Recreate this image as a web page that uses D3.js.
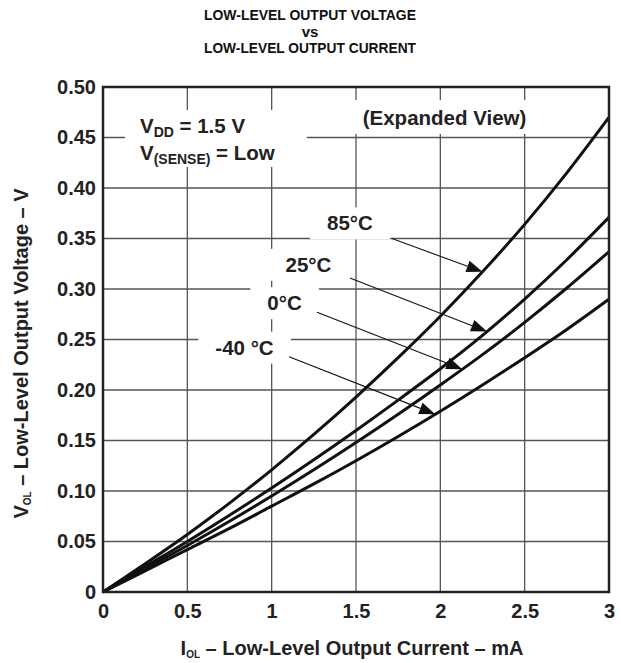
<!DOCTYPE html>
<html>
<head>
<meta charset="utf-8">
<script src="https://cdn.jsdelivr.net/npm/d3@7"></script>
<style>
  body { margin: 0; background: #fff; }
  svg { display: block; font-family: "Liberation Sans", Arial, sans-serif; font-weight: bold; }
</style>
</head>
<body>
<div id="chart"></div>
<script>
// V_OL vs I_OL at four temperatures (V_DD = 1.5 V)
const current = [0, 0.25, 0.5, 0.75, 1.0, 1.25, 1.5, 1.75, 2.0, 2.25, 2.5, 2.75, 3.0];
const v85 = [0, 0.028, 0.057, 0.088, 0.121, 0.156, 0.193, 0.232, 0.273, 0.317, 0.364, 0.415, 0.470];
const v25 = [0, 0.025, 0.050, 0.076, 0.103, 0.131, 0.160, 0.190, 0.221, 0.254, 0.290, 0.329, 0.371];
const v0 = [0, 0.023, 0.046, 0.070, 0.095, 0.121, 0.148, 0.176, 0.205, 0.235, 0.267, 0.301, 0.337];
const vm40 = [0, 0.021, 0.042, 0.063, 0.085, 0.107, 0.130, 0.154, 0.179, 0.205, 0.232, 0.260, 0.290];

const xTicks = [0, 0.5, 1, 1.5, 2, 2.5, 3];
const yTicks = [0, 0.05, 0.10, 0.15, 0.20, 0.25, 0.30, 0.35, 0.40, 0.45, 0.50];

const series = [
  { name: '85°C', values: v85 },
  { name: '25°C', values: v25 },
  { name: '0°C', values: v0 },
  { name: '-40 °C', values: vm40 }
];

// label baseline, arrow tail and the current where the arrow meets its curve
const callouts = [
  { series: 0, text: [1.464, 0.358], tail: [1.713, 0.350], tip: 2.25 },
  { series: 1, text: [1.218, 0.317], tail: [1.464, 0.311], tip: 2.277 },
  { series: 2, text: [1.076, 0.279], tail: [1.269, 0.277], tip: 2.13 },
  { series: 3, text: [0.839, 0.235], tail: [1.103, 0.233], tip: 1.97 }
];

const W = 621, H = 663;
const margin = { top: 87, right: 12, bottom: 71, left: 103 };
const width = W - margin.left - margin.right;
const height = H - margin.top - margin.bottom;

const svg = d3.select('#chart').append('svg')
  .attr('width', W)
  .attr('height', H);

// title, set in a narrow bold face
const title = svg.append('text')
  .attr('text-anchor', 'middle')
  .attr('fill', '#111')
  .style('font-size', '15px');
['LOW-LEVEL OUTPUT VOLTAGE', 'vs', 'LOW-LEVEL OUTPUT CURRENT'].forEach((t, i) => {
  const ts = title.append('tspan').attr('x', 310).attr('y', 20 + i * 16.5).text(t);
  if (t.length > 2) ts.attr('textLength', 212).attr('lengthAdjust', 'spacingAndGlyphs');
});

const g = svg.append('g').attr('transform', `translate(${margin.left},${margin.top})`);

const x = d3.scaleLinear().domain([0, 3]).range([0, width]);
const y = d3.scaleLinear().domain([0, 0.5]).range([height, 0]);

// grid
const grid = g.append('g');
grid.selectAll('line.v')
  .data(xTicks.slice(1, -1))
  .join('line')
  .attr('class', 'v')
  .attr('x1', d => x(d)).attr('x2', d => x(d))
  .attr('y1', 0).attr('y2', height);
grid.selectAll('line.h')
  .data(yTicks.slice(1, -1))
  .join('line')
  .attr('class', 'h')
  .attr('x1', 0).attr('x2', width)
  .attr('y1', d => y(d)).attr('y2', d => y(d));
grid.selectAll('line')
  .attr('stroke', '#555')
  .attr('stroke-width', 1.3);

// axes (labels only)
const xAxis = g.append('g')
  .attr('transform', `translate(0,${height})`)
  .call(d3.axisBottom(x).tickValues(xTicks).tickSize(0).tickPadding(12).tickFormat(d3.format('')));
const yAxis = g.append('g')
  .call(d3.axisLeft(y).tickValues(yTicks).tickSize(0).tickPadding(7)
    .tickFormat(d => d === 0 ? '0' : d3.format('.2f')(d)));
[xAxis, yAxis].forEach(a => {
  a.select('.domain').remove();
  a.selectAll('text')
    .style('font-family', '"Liberation Sans", Arial, sans-serif')
    .style('font-weight', 'bold')
    .style('font-size', '20px')
    .attr('fill', '#222');
});

// white boxes that knock out the grid behind text
const boxes = g.append('g');
const ink = g.append('g');

function knockout(sel, l, r, t, b) {
  const bb = sel.node().getBBox();
  boxes.append('rect')
    .attr('x', bb.x - l).attr('y', bb.y - t)
    .attr('width', bb.width + l + r).attr('height', bb.height + t + b)
    .attr('fill', '#fff');
}

// conditions
const cond = ink.append('text')
  .attr('x', x(0.219))
  .attr('y', y(0.4545))
  .style('font-size', '20.5px')
  .attr('fill', '#222');
cond.append('tspan').text('V');
cond.append('tspan').attr('dy', 4).style('font-size', '14px').text('DD');
cond.append('tspan').attr('dy', -4).text(' = 1.5 V');
cond.append('tspan').attr('x', x(0.219)).attr('dy', 27).text('V');
cond.append('tspan').attr('dy', 4).style('font-size', '14px').text('(SENSE)');
cond.append('tspan').attr('dy', -4).text(' = Low');
knockout(cond, 15, 32, 4, 0);

const expanded = ink.append('text')
  .attr('x', x(2.025))
  .attr('y', y(0.4624))
  .attr('text-anchor', 'middle')
  .style('font-size', '20.5px')
  .attr('fill', '#222')
  .text('(Expanded View)');
knockout(expanded, 10, 7, 6, 5);

// curves
const line = d3.line()
  .x((d, i) => x(current[i]))
  .y(d => y(d))
  .curve(d3.curveMonotoneX);

ink.selectAll('path.curve')
  .data(series)
  .join('path')
  .attr('class', 'curve')
  .attr('d', d => line(d.values))
  .attr('fill', 'none')
  .attr('stroke', '#111')
  .attr('stroke-width', 3);

// temperature callouts
const at = (vals, c) => {
  const i = d3.bisectLeft(current, c);
  if (i <= 0) return vals[0];
  const t = (c - current[i - 1]) / (current[i] - current[i - 1]);
  return vals[i - 1] + t * (vals[i] - vals[i - 1]);
};

callouts.forEach(c => {
  const s = series[c.series];
  const lbl = ink.append('text')
    .attr('x', x(c.text[0]))
    .attr('y', y(c.text[1]))
    .attr('text-anchor', 'middle')
    .style('font-size', '20.5px')
    .attr('fill', '#222')
    .text(s.name);
  knockout(lbl, 17, 17, 4, 5);

  const x0 = x(c.tail[0]), y0 = y(c.tail[1]);
  const x1 = x(c.tip), y1 = y(at(s.values, c.tip));
  const ang = Math.atan2(y1 - y0, x1 - x0);
  const len = 16, half = 6;
  const bx = x1 - len * Math.cos(ang), by = y1 - len * Math.sin(ang);
  ink.append('line')
    .attr('x1', x0).attr('y1', y0)
    .attr('x2', bx).attr('y2', by)
    .attr('stroke', '#111')
    .attr('stroke-width', 1.1);
  ink.append('path')
    .attr('d', `M${x1},${y1}L${bx + half * Math.sin(ang)},${by - half * Math.cos(ang)}L${bx - half * Math.sin(ang)},${by + half * Math.cos(ang)}Z`)
    .attr('fill', '#111');
});

// frame
g.append('rect')
  .attr('width', width).attr('height', height)
  .attr('fill', 'none')
  .attr('stroke', '#222')
  .attr('stroke-width', 2.5);

// axis titles
const xt = svg.append('text')
  .attr('x', margin.left + width / 2 - 4)
  .attr('y', 655)
  .attr('text-anchor', 'middle')
  .style('font-size', '20px')
  .attr('fill', '#222');
xt.append('tspan').text('I');
xt.append('tspan').attr('dy', 3).style('font-size', '10px').text('OL');
xt.append('tspan').attr('dy', -3).text(' – Low-Level Output Current – mA');

const yt = svg.append('text')
  .attr('transform', `translate(28,${margin.top + height / 2 + 14}) rotate(-90)`)
  .attr('text-anchor', 'middle')
  .style('font-size', '20px')
  .attr('fill', '#222');
yt.append('tspan').text('V');
yt.append('tspan').attr('dy', 3).style('font-size', '10px').text('OL');
yt.append('tspan').attr('dy', -3).text(' – Low-Level Output Voltage – V');
</script>
</body>
</html>
